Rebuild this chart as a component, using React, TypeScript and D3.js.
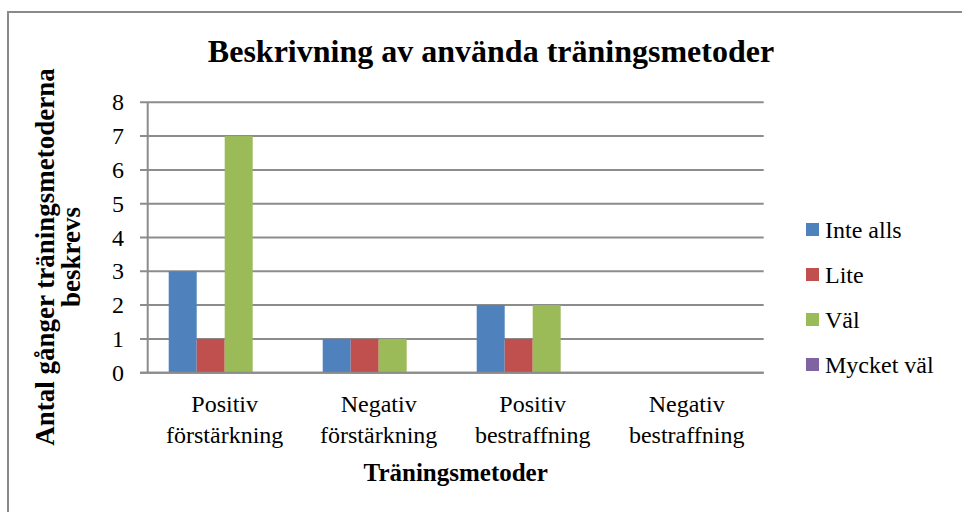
import React from "react";
import * as d3 from "d3";

const categories: string[][] = [
  ["Positiv", "förstärkning"],
  ["Negativ", "förstärkning"],
  ["Positiv", "bestraffning"],
  ["Negativ", "bestraffning"],
];
const seriesNames = ["Inte alls", "Lite", "Väl", "Mycket väl"];
const inteAlls = [3, 1, 2, 0];
const lite = [1, 1, 1, 0];
const val = [7, 1, 2, 0];
const mycketVal = [0, 0, 0, 0];
const seriesValues = [inteAlls, lite, val, mycketVal];
const colors = ["#4F81BD", "#C0504D", "#9BBB59", "#8064A2"];
const yTicks = [0, 1, 2, 3, 4, 5, 6, 7, 8];

const W = 962;
const H = 512;
const plotLeft = 147.7;
const plotRight = 763.7;
const plotTop = 102.3;
const plotBottom = 372.7;
const FONT = "Liberation Serif, Times New Roman, serif";
const reg = { fontFamily: FONT, fontWeight: 400 as const };
const bold = { fontFamily: FONT, fontWeight: 700 as const };

export default function App() {
  const catKeys = categories.map((c) => c.join(" "));
  const x0 = d3.scaleBand<string>().domain(catKeys).range([plotLeft, plotRight]).padding(0);
  const bw = x0.bandwidth();
  const x1 = d3
    .scaleBand<string>()
    .domain(seriesNames)
    .range([bw * 0.1364, bw * (1 - 0.1364)])
    .padding(0);
  const y = d3.scaleLinear().domain([0, 8]).range([plotBottom, plotTop]);

  return (
    <svg
      width={W}
      height={H}
      style={{ position: "absolute", left: 0, top: 0, background: "#fff" }}
    >
      <rect x={0} y={0} width={W} height={H} fill="#fff" />
      <rect x={8} y={12} width={970} height={600} fill="none" stroke="#8a8a8a" strokeWidth={2} />
      <text x={491} y={62} textAnchor="middle" fontSize={32} style={bold} fill="#000">
        Beskrivning av använda träningsmetoder
      </text>
      {yTicks.map((t) => (
        <g key={t}>
          <line x1={140} x2={plotRight} y1={y(t)} y2={y(t)} stroke="#8c8c8c" strokeWidth={2} />
          <text
            x={124}
            y={y(t)}
            textAnchor="end"
            dominantBaseline="central"
            fontSize={24}
            style={reg}
            fill="#000"
          >
            {t}
          </text>
        </g>
      ))}
      <line x1={plotLeft} x2={plotLeft} y1={plotTop} y2={plotBottom} stroke="#8c8c8c" strokeWidth={2} />
      {catKeys.map((c, ci) => (
        <g key={c} transform={`translate(${x0(c)},0)`}>
          {seriesNames.map((s, si) => {
            const v = seriesValues[si][ci];
            return (
              <rect
                key={s}
                x={x1(s)}
                y={y(v)}
                width={x1.bandwidth()}
                height={y(0) - y(v)}
                fill={colors[si]}
              />
            );
          })}
        </g>
      ))}
      <line x1={140} x2={plotRight} y1={plotBottom} y2={plotBottom} stroke="#8c8c8c" strokeWidth={2} />
      {categories.map((lines, ci) => (
        <text
          key={ci}
          x={(x0(catKeys[ci]) as number) + bw / 2}
          y={412}
          textAnchor="middle"
          fontSize={24}
          style={reg}
          fill="#000"
        >
          {lines.map((l, li) => (
            <tspan key={li} x={(x0(catKeys[ci]) as number) + bw / 2} dy={li === 0 ? 0 : 31}>
              {l}
            </tspan>
          ))}
        </text>
      ))}
      <text x={(plotLeft + plotRight) / 2} y={481} textAnchor="middle" fontSize={25} style={bold} fill="#000">
        Träningsmetoder
      </text>
      <text
        transform={`translate(54,257) rotate(-90)`}
        textAnchor="middle"
        fontSize={27}
        style={bold}
        fill="#000"
      >
        <tspan x={0} dy={0}>Antal gånger träningsmetoderna</tspan>
        <tspan x={0} dy={26}>beskrevs</tspan>
      </text>
      {seriesNames.map((s, i) => {
        const cy = 229.5 + i * 45;
        return (
          <g key={s}>
            <rect x={806} y={cy - 6.5} width={13} height={13} fill={colors[i]} />
            <text x={825} y={cy} dominantBaseline="central" fontSize={24} style={reg} fill="#000">
              {s}
            </text>
          </g>
        );
      })}
    </svg>
  );
}
